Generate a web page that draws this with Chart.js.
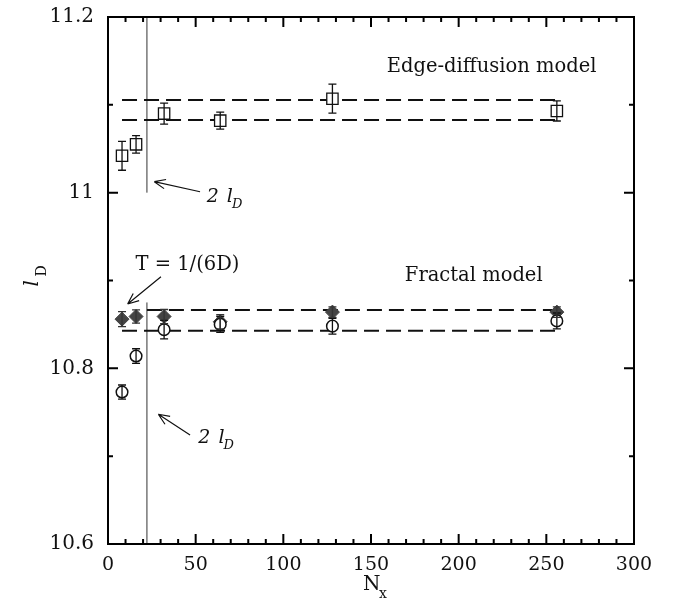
<!DOCTYPE html>
<html>
<head>
<meta charset="utf-8">
<script src="https://cdn.jsdelivr.net/npm/chart.js@4/dist/chart.umd.min.js"></script>
<style>
  html,body{margin:0;padding:0;background:#fff}
  #wrap{width:674px;height:609px}
</style>
</head>
<body>
<div id="wrap"><canvas id="c" width="674" height="609"></canvas></div>
<script>
// N_x values (same for all series)
const nx = [8, 16, 32, 64, 128, 256];

// edge-diffusion model (open squares)
const edgeVals = [11.042, 11.055, 11.090, 11.082, 11.107, 11.093];
const edgeErr  = [0.0165, 0.010, 0.012, 0.0097, 0.0165, 0.0114];

// fractal model, T = 1/(6D) (filled diamonds)
const fracT    = [10.856, 10.859, 10.859, 10.853, 10.864, 10.864];
const fracTErr = [0.0085, 0.0076, 0.008, 0.008, 0.006, 0.006];

// fractal model (open circles)
const fracVals = [10.773, 10.814, 10.844, 10.850, 10.848, 10.854];
const fracErr  = [0.008, 0.0083, 0.0105, 0.009, 0.009, 0.009];

// dashed bands
const edgeBand = [11.1055, 11.0827];
const fracBand = [10.8663, 10.8427];
const bandStart = [8, 8, 22.2, 8];   // edge hi, edge lo, frac hi, frac lo
const bandEnd = 256;

// 2 l_D vertical markers
const twoLD = 22.2;
const vEdge = [11.0, 11.2];
const vFrac = [10.6, 10.875];

const pts = (ys) => nx.map((x,i)=>({x, y:ys[i]}));
const hline = (y, x0) => [{x:x0,y},{x:bandEnd,y}];

const dash = {type:'line', showLine:true, pointRadius:0, borderColor:'#111', borderWidth:2,
  borderDash:[15,7], fill:false, tension:0};

const datasets = [
  {label:'fractal', data:pts(fracVals), err:fracErr, pointStyle:'circle', pointRadius:5.8,
    backgroundColor:'#fff', borderColor:'#111', borderWidth:1.5},
  {label:'fractalT', data:pts(fracT), err:fracTErr, pointStyle:'rectRot', pointRadius:7,
    backgroundColor:'#444', borderColor:'#444', borderWidth:1},
  {label:'edge', data:pts(edgeVals), err:edgeErr, pointStyle:'rect', pointRadius:8,
    backgroundColor:'#fff', borderColor:'#111', borderWidth:1.3},
  {...dash, data:hline(edgeBand[0], bandStart[0])},
  {...dash, data:hline(edgeBand[1], bandStart[1])},
  {...dash, data:hline(fracBand[0], bandStart[2])},
  {...dash, data:hline(fracBand[1], bandStart[3])},
  {type:'line', showLine:true, pointRadius:0, borderColor:'#333', borderWidth:1,
    data:vEdge.map(y=>({x:twoLD,y}))},
  {type:'line', showLine:true, pointRadius:0, borderColor:'#333', borderWidth:1,
    data:vFrac.map(y=>({x:twoLD,y}))}
];

// annotations in data coordinates
const arrows = [
  {from:[30.2,10.9043], to:[11.2,10.8732]},
  {from:[46.8,10.724],  to:[28.7,10.7477]},
  {from:[52.5,11.001],  to:[26.4,11.0125]}
];
const labels = [
  {text:'Edge-diffusion model', x:218.8, y:11.1434},
  {text:'Fractal model',        x:208.6, y:10.9051},
  {text:'T = 1/(6D)',           x:45.3,  y:10.9176}
];
const twoLDText = [{x:56.3, y:10.9899}, {x:51.5, y:10.7146}];

const serif = '"DejaVu Serif", serif';

const decor = {
  id:'decor',
  afterDatasetsDraw(chart){
    const {ctx, scales:{x, y}} = chart;
    ctx.save();
    // error bars
    chart.data.datasets.forEach(ds=>{
      if(!ds.err) return;
      ctx.strokeStyle = ds.label==='fractalT' ? '#333' : '#111';
      ctx.lineWidth = 1.3;
      ds.data.forEach((p,i)=>{
        const px = x.getPixelForValue(p.x);
        const y0 = y.getPixelForValue(p.y - ds.err[i]);
        const y1 = y.getPixelForValue(p.y + ds.err[i]);
        ctx.beginPath();
        ctx.moveTo(px, y0); ctx.lineTo(px, y1);
        ctx.moveTo(px-4, y0); ctx.lineTo(px+4, y0);
        ctx.moveTo(px-4, y1); ctx.lineTo(px+4, y1);
        ctx.stroke();
      });
    });
    // arrows
    ctx.strokeStyle = '#111'; ctx.lineWidth = 1.2;
    arrows.forEach(a=>{
      const x0 = x.getPixelForValue(a.from[0]), y0 = y.getPixelForValue(a.from[1]);
      const x1 = x.getPixelForValue(a.to[0]),   y1 = y.getPixelForValue(a.to[1]);
      const ang = Math.atan2(y1-y0, x1-x0);
      ctx.beginPath(); ctx.moveTo(x0,y0); ctx.lineTo(x1,y1);
      [0.4,-0.4].forEach(d=>{
        ctx.moveTo(x1,y1);
        ctx.lineTo(x1-12*Math.cos(ang+d), y1-12*Math.sin(ang+d));
      });
      ctx.stroke();
    });
    // text labels
    ctx.fillStyle = '#111';
    ctx.font = '19.5px ' + serif;
    ctx.textAlign = 'center'; ctx.textBaseline = 'middle';
    labels.forEach(l=> ctx.fillText(l.text, x.getPixelForValue(l.x), y.getPixelForValue(l.y)));
    // 2 l_D labels
    ctx.textAlign = 'left'; ctx.textBaseline = 'alphabetic';
    twoLDText.forEach(t=>{
      const px = x.getPixelForValue(t.x), py = y.getPixelForValue(t.y);
      ctx.font = 'italic 19px ' + serif;
      ctx.fillText('2', px, py);
      const w = ctx.measureText('2 ').width;
      ctx.fillText('l', px + w + 2, py);
      const wl = ctx.measureText('l').width;
      ctx.font = 'italic 13px ' + serif;
      ctx.fillText('D', px + w + wl + 1, py + 6);
    });
    ctx.restore();
  },
  afterDraw(chart){
    const {ctx, chartArea:a, scales:{x, y}} = chart;
    ctx.save();
    ctx.strokeStyle = '#000'; ctx.lineWidth = 2;
    ctx.strokeRect(a.left, a.top, a.right-a.left, a.bottom-a.top);
    ctx.beginPath();
    for(let v=0; v<=300; v+=10){
      const px = x.getPixelForValue(v), len = v%50===0 ? 10 : 5;
      ctx.moveTo(px, a.bottom); ctx.lineTo(px, a.bottom-len);
      ctx.moveTo(px, a.top);    ctx.lineTo(px, a.top+len);
    }
    for(let k=0; k<=6; k++){
      const v = 10.6 + k*0.1, py = y.getPixelForValue(v), len = k%2===0 ? 10 : 5;
      ctx.moveTo(a.left, py);  ctx.lineTo(a.left+len, py);
      ctx.moveTo(a.right, py); ctx.lineTo(a.right-len, py);
    }
    ctx.stroke();
    // axis titles
    ctx.fillStyle = '#111';
    ctx.font = '20px ' + serif;
    ctx.textAlign = 'left'; ctx.textBaseline = 'alphabetic';
    const cx = (a.left + a.right)/2;
    ctx.fillText('N', cx - 8, 590);
    ctx.font = '14px ' + serif;
    ctx.fillText('x', cx + 8, 598);
    ctx.translate(38, (a.top + a.bottom)/2);
    ctx.rotate(-Math.PI/2);
    ctx.font = 'italic 20px ' + serif;
    ctx.fillText('l', -6, 0);
    ctx.font = '14px ' + serif;
    ctx.fillText('D', 4, 8);
    ctx.restore();
  }
};

new Chart(document.getElementById('c'), {
  type:'scatter',
  data:{datasets},
  plugins:[decor],
  options:{
    responsive:false, animation:false, devicePixelRatio:1,
    layout:{padding:{top:17, right:40, left:0, bottom:0}},
    plugins:{legend:{display:false}, tooltip:{enabled:false}},
    scales:{
      x:{type:'linear', min:0, max:300,
        afterFit:s=>{ s.height = 65; s.paddingLeft = 0; s.paddingRight = 0; },
        grid:{display:false, drawTicks:false}, border:{display:false},
        ticks:{stepSize:50, padding:10, color:'#111', font:{family:serif, size:19}}},
      y:{type:'linear', min:10.6, max:11.2,
        afterFit:s=>{ s.width = 108; s.paddingTop = 0; s.paddingBottom = 0; },
        grid:{display:false, drawTicks:false}, border:{display:false},
        ticks:{stepSize:0.2, padding:14, color:'#111', font:{family:serif, size:20},
          callback:v=>String(+(+v).toFixed(1))}}
    }
  }
});
</script>
</body>
</html>
